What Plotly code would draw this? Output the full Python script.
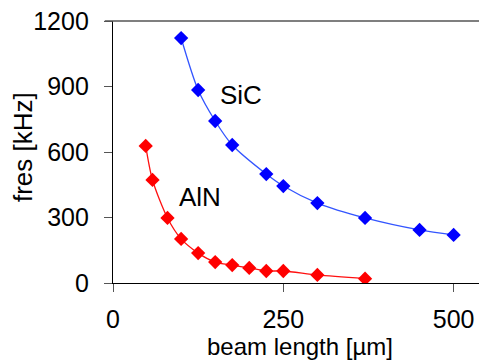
import plotly.graph_objects as go

sic_x = [100, 125, 150, 175, 225, 250, 300, 370, 450, 500]
sic_y = [1122, 884, 742, 632, 499, 444, 366, 298, 243, 220]
aln_x = [48, 58, 80, 100, 125, 150, 175, 200, 225, 250, 300, 370]
aln_y = [628, 472, 298, 202, 137, 96, 82, 69, 55, 55, 37, 20]

x_ticks = [0, 250, 500]
y_ticks = [0, 300, 600, 900, 1200]

FONT = "Liberation Sans, Arial, sans-serif"

fig = go.Figure()
fig.add_trace(go.Scatter(
    x=sic_x, y=sic_y, mode="lines+markers", name="SiC",
    line=dict(color="#3355ff", width=1.3, shape="spline", smoothing=0.8),
    marker=dict(symbol="diamond", size=11, color="#0000ff"),
))
fig.add_trace(go.Scatter(
    x=aln_x, y=aln_y, mode="lines+markers", name="AlN",
    line=dict(color="#ff1010", width=1.3, shape="spline", smoothing=0.8),
    marker=dict(symbol="diamond", size=11, color="#ff0000"),
))

fig.add_annotation(x=188, y=861, text="SiC", showarrow=False,
                   font=dict(family=FONT, size=26, color="black"))
fig.add_annotation(x=127, y=394, text="AlN", showarrow=False,
                   font=dict(family=FONT, size=26, color="black"))

# axis titles
fig.add_annotation(xref="paper", yref="paper", x=0.5, y=-0.242, xanchor="center", yanchor="middle",
                   text="beam length [µm]", showarrow=False,
                   font=dict(family=FONT, size=24, color="black"))
fig.add_annotation(xref="paper", yref="paper", x=-0.2406, y=0.519, xanchor="center", yanchor="middle",
                   text="fres [kHz]", textangle=-90, showarrow=False,
                   font=dict(family=FONT, size=26, color="black"))

# top border line at 1200 (starts at the tick)
fig.add_shape(type="line", xref="paper", yref="paper", x0=-0.022, x1=1, y0=1, y1=1,
              line=dict(color="#555555", width=1.3), layer="above")

# page body has an 8px margin; the figure is sized/placed to compensate
fig.update_layout(
    width=479, height=353,
    margin=dict(l=105, r=0, t=13, b=78),
    paper_bgcolor="white", plot_bgcolor="white",
    showlegend=False,
    font=dict(family=FONT, color="black"),
)
fig.update_xaxes(
    range=[0, 549], tickvals=x_ticks, ticks="outside", ticklen=8, tickcolor="#555555",
    showline=True, linecolor="black", linewidth=1.3, showgrid=False, zeroline=False,
    tickfont=dict(size=25), ticklabelstandoff=6, automargin=False,
    ticklabeloverflow="allow",
)
fig.update_yaxes(
    range=[0, 1200], tickvals=y_ticks, ticks="outside", ticklen=8, tickcolor="#555555",
    showline=True, linecolor="black", linewidth=1.3, showgrid=False, zeroline=False,
    tickfont=dict(size=25), ticklabelstandoff=10, automargin=False,
    ticklabeloverflow="allow",
)

fig.write_html("out.html")
